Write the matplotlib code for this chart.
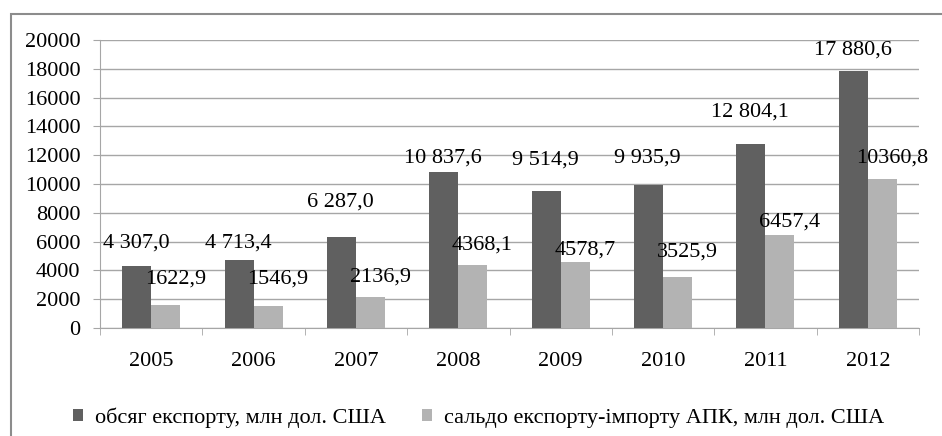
import numpy as np
import matplotlib
matplotlib.use("Agg")
import matplotlib.pyplot as plt
from matplotlib.patches import Rectangle

plt.rcParams['font.family'] = ['Liberation Serif', 'DejaVu Serif']

years = ['2005', '2006', '2007', '2008', '2009', '2010', '2011', '2012']
export_vol = [4307.0, 4713.4, 6287.0, 10837.6, 9514.9, 9935.9, 12804.1, 17880.6]
balance = [1622.9, 1546.9, 2136.9, 4368.1, 4578.7, 3525.9, 6457.4, 10360.8]
export_labels = ['4 307,0', '4 713,4', '6 287,0', '10 837,6', '9 514,9',
                 '9 935,9', '12 804,1', '17 880,6']
balance_labels = ['1622,9', '1546,9', '2136,9', '4368,1', '4578,7',
                  '3525,9', '6457,4', '10360,8']
# where the (manually moved) data labels sit, in data units
export_label_y = [5900, 5900, 8750, 11800, 11670, 11800, 15000, 19300]
balance_label_y = [3400, 3400, 3540, 5760, 5420, 5280, 7360, 11800]

dark = '#606060'
light = '#b3b3b3'
gridc = '#a6a6a6'
fs = 16

fig = plt.figure(figsize=(9.42, 4.36), dpi=100)
ax = fig.add_axes([0.1062, 0.2477, 0.8694, 0.6606])

x = np.arange(len(years))
w = 0.283
ax.bar(x - w / 2, export_vol, w, color=dark, zorder=3,
       label='обсяг експорту, млн дол. США')
ax.bar(x + w / 2, balance, w, color=light, zorder=3,
       label='сальдо експорту-імпорту АПК, млн дол. США')

for i in range(len(years)):
    ax.text(x[i] - 0.15, export_label_y[i], export_labels[i], ha='center',
            va='center', fontsize=fs, zorder=4)
    ax.text(x[i] + 0.235, balance_label_y[i], balance_labels[i], ha='center',
            va='center', fontsize=fs, zorder=4)

ax.set_xlim(-0.5, len(years) - 0.5)
ax.set_ylim(0, 20000)
ax.set_yticks(np.arange(0, 20001, 2000))
ax.yaxis.grid(True, color=gridc, linewidth=1)
ax.set_axisbelow(True)

ax.set_xticks(x)
ax.set_xticklabels(years)
ax.set_xticks(np.arange(-0.5, len(years)), minor=True)
ax.tick_params(axis='x', which='major', length=0, pad=17, labelsize=fs)
ax.tick_params(axis='x', which='minor', length=5, color=gridc)
ax.tick_params(axis='y', length=5, color=gridc, pad=9, labelsize=fs)

for s in ['top', 'right']:
    ax.spines[s].set_visible(False)
ax.spines['left'].set_color(gridc)
ax.spines['bottom'].set_color(gridc)

fig.legend(loc='center', bbox_to_anchor=(0.508, 0.041), ncol=2, frameon=False,
           fontsize=fs, handlelength=0.45, handleheight=0.45,
           handletextpad=0.55, columnspacing=1.6)

# chart frame (runs off the right and bottom edges)
fig.patches.append(Rectangle((11 / 942, -0.05), 1.1, 1 - 14 / 436 + 0.05,
                             transform=fig.transFigure, fill=False,
                             edgecolor='#8c8c8c', linewidth=1.5))

fig.savefig('out.png', dpi=100)
